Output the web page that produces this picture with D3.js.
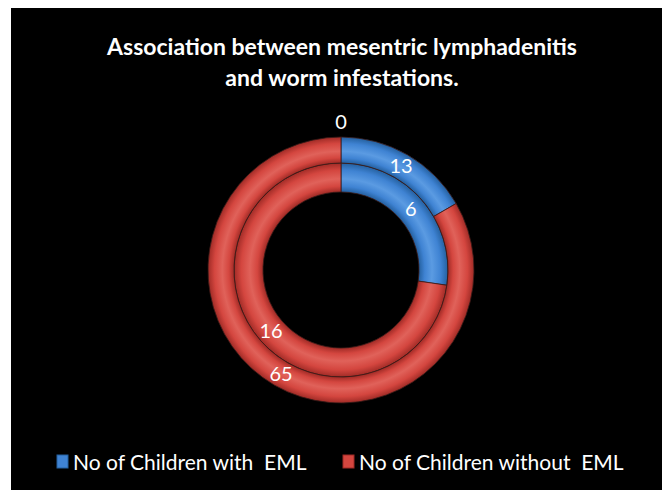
<!DOCTYPE html>
<html>
<head>
<meta charset="utf-8">
<script src="https://cdn.jsdelivr.net/npm/d3@7"></script>
<style>
  html, body { margin: 0; padding: 0; background: #ffffff; }
  svg { display: block; }
</style>
</head>
<body>
<svg id="chart" width="662" height="490"></svg>
<script>
// Categories (slices) shown in the legend
const categories = ["No of Children with  EML", "No of Children without  EML"];
// One series per ring, innermost first
const innerValues = [6, 16];
const outerValues = [13, 65];
// Zero-valued slice sitting at 12 o'clock on the outer ring
const zeroValues = [0];
const titleLines = ["Association between mesentric lymphadenitis", "and worm infestations."];

const colors = ["#3f83d3", "#d4463f"];
const edgeColors = ["#24609f", "#a02b26"];
const lightColors = ["#5b9be2", "#e0625a"];

const svg = d3.select("#chart");
const W = 662, H = 490;
const cx = 341, cy = 270;
const rings = [
  { key: "inner", values: innerValues, r0: 78, r1: 107 },
  { key: "outer", values: outerValues, r0: 107, r1: 133 }
];
const Rmax = 133;
const font = "Lato, 'Open Sans', sans-serif";

// chart area
svg.append("rect").attr("x", 11).attr("y", 8).attr("width", W - 11).attr("height", H - 8).attr("fill", "#000");

// title
svg.append("g").selectAll("text").data(titleLines).join("text")
  .attr("x", 342).attr("y", (d, i) => 55 + i * 31)
  .attr("text-anchor", "middle")
  .attr("fill", "#fff")
  .attr("font-family", font)
  .attr("font-weight", "bold")
  .attr("font-size", 23)
  .text(d => d);

const defs = svg.append("defs");
// bevel shading across each ring's width (gradient space is the translated plot group)
rings.forEach(ring => {
  categories.forEach((c, ci) => {
    const g = defs.append("radialGradient")
      .attr("id", `grad-${ring.key}-${ci}`)
      .attr("gradientUnits", "userSpaceOnUse")
      .attr("cx", 0).attr("cy", 0).attr("r", Rmax)
      .attr("fx", 0).attr("fy", 0);
    const s0 = ring.r0 / Rmax, s1 = ring.r1 / Rmax, w = s1 - s0;
    [[s0, edgeColors[ci]], [s0 + w * 0.2, colors[ci]], [s0 + w * 0.45, lightColors[ci]],
     [s0 + w * 0.75, colors[ci]], [s1, edgeColors[ci]]]
      .forEach(([o, col]) => g.append("stop").attr("offset", o).attr("stop-color", col));
  });
});

const pie = d3.pie().sort(null).value(d => d);
const plot = svg.append("g").attr("transform", `translate(${cx},${cy})`);

rings.forEach(ring => {
  const arcs = pie(ring.values);
  const arc = d3.arc().innerRadius(ring.r0).outerRadius(ring.r1);
  plot.append("g").selectAll("path").data(arcs).join("path")
    .attr("d", arc)
    .attr("fill", (d, i) => `url(#grad-${ring.key}-${i})`)
    .attr("stroke", "#3a1a18")
    .attr("stroke-width", 0.8);
  plot.append("g").selectAll("text").data(arcs).join("text")
    .attr("transform", d => `translate(${arc.centroid(d)})`)
    .attr("text-anchor", "middle")
    .attr("dy", "0.35em")
    .attr("fill", "#fff")
    .attr("font-family", font)
    .attr("font-size", 20)
    .text(d => d.data);
});

// label of the zero slice, placed just outside the outer ring
const zeroArc = d3.arc().innerRadius(Rmax + 10).outerRadius(Rmax + 10);
plot.append("g").selectAll("text")
  .data(zeroValues.map(v => ({ data: v, startAngle: 0, endAngle: 0 })))
  .join("text")
  .attr("transform", d => `translate(${zeroArc.centroid(d)})`)
  .attr("text-anchor", "middle")
  .attr("dy", "0.1em")
  .attr("fill", "#fff")
  .attr("font-family", font)
  .attr("font-size", 20)
  .text(d => d.data);

// legend
const legendX = [57, 343];
const lg = svg.append("g").selectAll("g").data(categories).join("g")
  .attr("transform", (d, i) => `translate(${legendX[i]},455)`);
lg.append("rect").attr("width", 11).attr("height", 13)
  .attr("fill", (d, i) => colors[i]).attr("stroke", (d, i) => edgeColors[i]).attr("stroke-width", 1);
lg.append("text").attr("x", 16).attr("y", 15)
  .attr("fill", "#fff")
  .attr("font-family", font)
  .attr("font-size", 21)
  .style("white-space", "pre")
  .text(d => d);
</script>
</body>
</html>
